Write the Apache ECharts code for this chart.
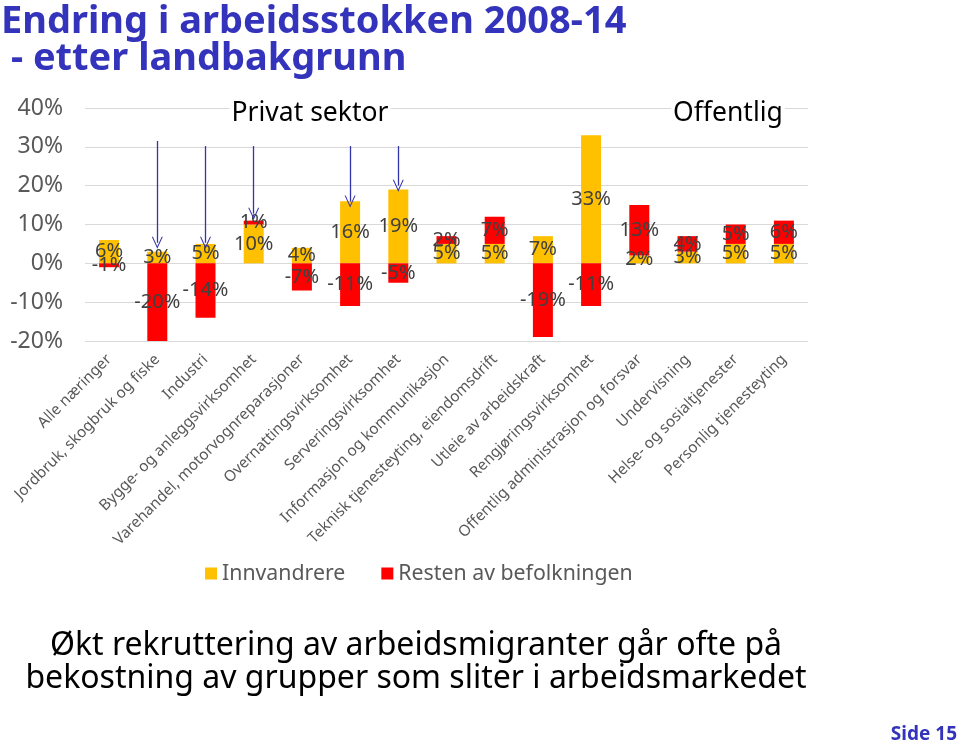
<!DOCTYPE html>
<html>
<head>
<meta charset="utf-8">
<script src="https://cdn.jsdelivr.net/npm/echarts@6/dist/echarts.min.js"></script>
<style>
html,body{margin:0;padding:0;background:#fff;}
#c{width:959px;height:747px;}
</style>
</head>
<body>
<div id="c"></div>
<script>
const categories = ['Alle næringer','Jordbruk, skogbruk og fiske','Industri','Bygge- og anleggsvirksomhet','Varehandel, motorvognreparasjoner','Overnattingsvirksomhet','Serveringsvirksomhet','Informasjon og kommunikasjon','Teknisk tjenesteyting, eiendomsdrift','Utleie av arbeidskraft','Rengjøringsvirksomhet','Offentlig administrasjon og forsvar','Undervisning','Helse- og sosialtjenester','Personlig tjenesteyting'];
const innvandrere = [6, 3, 5, 10, 4, 16, 19, 5, 5, 7, 33, 2, 3, 5, 5];
const resten = [-1, -20, -14, 1, -7, -11, -5, 2, 7, -19, -11, 13, 4, 5, 6];
const yTicks = [-20, -10, 0, 10, 20, 30, 40];
// arrows: category, start value, end value
const arrowCats = ['Jordbruk, skogbruk og fiske','Industri','Bygge- og anleggsvirksomhet','Overnattingsvirksomhet','Serveringsvirksomhet'];
const arrowFrom = [31.5, 30.2, 30.2, 30.2, 30.2];
const arrowTo = [5.3, 5.3, 12.8, 15.9, 20.0];

const chart = echarts.init(document.getElementById('c'));
const FONT = '"Noto Sans", "Open Sans", sans-serif';
const labelStyle = {show:true, position:'inside', formatter: p => p.value + '%', color:'#404040', fontSize:20, fontFamily:FONT};

chart.setOption({
  animation:false,
  textStyle:{fontFamily:FONT},
  graphic:[
    {type:'text', left:1, top:3, z:10, style:{text:'Endring i arbeidsstokken 2008-14\n - etter landbakgrunn', fill:'#3333BB', font:'bold 38px "Noto Sans", sans-serif', lineHeight:37}},
    {type:'text', x:310, y:113, z:10, style:{text:'Privat sektor', fill:'#000', font:'26.5px "Noto Sans", sans-serif', align:'center', verticalAlign:'middle', backgroundColor:'#fff', padding:[0,2]}},
    {type:'text', x:728, y:113, z:10, style:{text:'Offentlig', fill:'#000', font:'26.5px "Noto Sans", sans-serif', align:'center', verticalAlign:'middle', backgroundColor:'#fff', padding:[0,2]}},
    {type:'text', x:416, y:629, z:10, style:{text:'Økt rekruttering av arbeidsmigranter går ofte på\nbekostning av grupper som sliter i arbeidsmarkedet', fill:'#000', font:'32px "Noto Sans", sans-serif', align:'center', lineHeight:33}},
    {type:'text', right:2, bottom:3, z:10, style:{text:'Side 15', fill:'#3333BB', font:'bold 19px "Noto Sans", sans-serif'}}
  ],
  legend:{
    data:['Innvandrere','Resten av befolkningen'],
    left:200, top:558, itemWidth:12, itemHeight:12, itemGap:36, icon:'rect',
    textStyle:{fontSize:21.3, color:'#595959', fontFamily:FONT}
  },
  grid:{left:85, right:151, top:108, bottom:406},
  xAxis:{
    type:'category', data:categories,
    axisLine:{show:false}, axisTick:{show:false},
    axisLabel:{rotate:45, interval:0, fontSize:15.3, color:'#595959', margin:16, fontFamily:FONT}
  },
  yAxis:{
    type:'value', min:yTicks[0], max:yTicks[yTicks.length-1], interval:10,
    axisLabel:{formatter:'{value}%', fontSize:23, color:'#595959', margin:22, fontFamily:FONT},
    splitLine:{lineStyle:{color:'#D9D9D9'}}
  },
  series:[
    {name:'Innvandrere', type:'bar', stack:'a', data:innvandrere, barWidth:20, itemStyle:{color:'#FFC000'}, label:labelStyle,
     markLine:{
       silent:true, symbol:['none','path://M0,10 L5,0 L10,10 L9,10 L5,2 L1,10 Z'], symbolSize:[11,12],
       lineStyle:{color:'#3333AA', width:1.3, type:'solid'}, label:{show:false},
       data: arrowCats.map((c,i)=>[{coord:[c, arrowFrom[i]]},{coord:[c, arrowTo[i]]}])
     }},
    {name:'Resten av befolkningen', type:'bar', stack:'a', data:resten, barWidth:20, itemStyle:{color:'#FF0000'}, label:labelStyle}
  ]
});
</script>
</body>
</html>
